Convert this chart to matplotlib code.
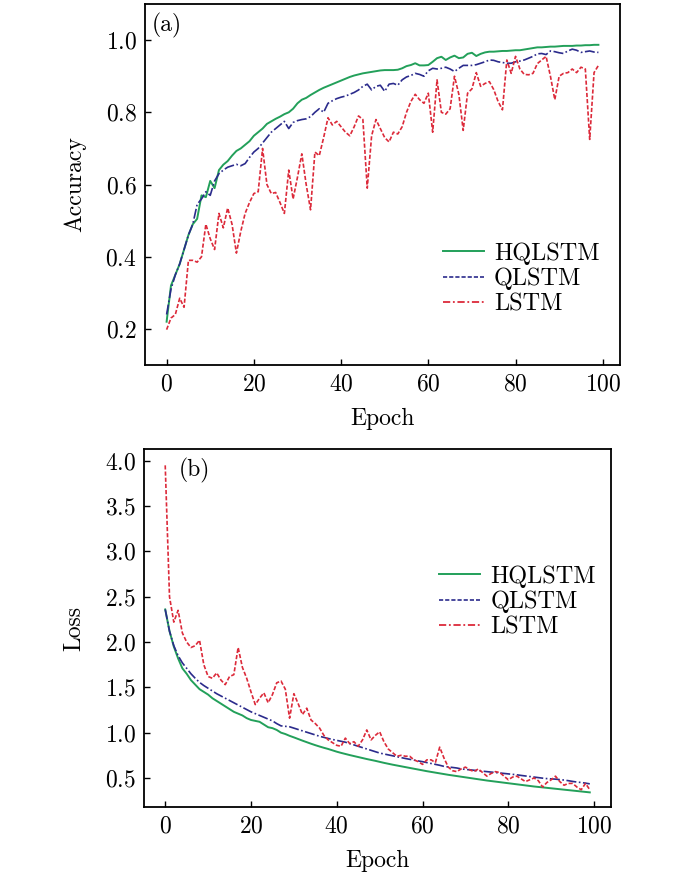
import numpy as np
import matplotlib
matplotlib.use("Agg")
import matplotlib.pyplot as plt
from matplotlib.lines import Line2D

plt.rcParams['font.family'] = 'serif'
plt.rcParams['font.serif'] = ['cmr10', 'DejaVu Serif']
plt.rcParams['mathtext.fontset'] = 'cm'
plt.rcParams['axes.formatter.use_mathtext'] = True
plt.rcParams['font.size'] = 16

#epochs 0..99
epochs = np.arange(100)

#accuracy curves
acc_hqlstm = [0.22, 0.32, 0.35, 0.38, 0.42, 0.46, 0.49, 0.505, 0.57, 0.565,
              0.61, 0.59, 0.64, 0.655, 0.665, 0.68, 0.693, 0.70, 0.71, 0.72,
              0.735, 0.745, 0.755, 0.768, 0.775, 0.782, 0.788, 0.795, 0.80, 0.81,
              0.825, 0.835, 0.84, 0.848, 0.855, 0.862, 0.868, 0.873, 0.878, 0.883,
              0.888, 0.893, 0.898, 0.902, 0.905, 0.908, 0.91, 0.912, 0.914, 0.916,
              0.917, 0.917, 0.917, 0.918, 0.922, 0.928, 0.931, 0.936, 0.93, 0.93,
              0.931, 0.94, 0.95, 0.954, 0.945, 0.952, 0.957, 0.95, 0.952, 0.962,
              0.965, 0.956, 0.962, 0.966, 0.968, 0.968, 0.969, 0.97, 0.97, 0.971,
              0.972, 0.972, 0.974, 0.976, 0.978, 0.98, 0.98, 0.981, 0.982, 0.982,
              0.983, 0.984, 0.984, 0.984, 0.985, 0.985, 0.986, 0.986, 0.987, 0.987]
acc_qlstm = [0.24, 0.31, 0.35, 0.38, 0.42, 0.46, 0.49, 0.545, 0.56, 0.58,
             0.57, 0.61, 0.63, 0.64, 0.648, 0.652, 0.656, 0.652, 0.658, 0.675,
             0.69, 0.70, 0.715, 0.73, 0.745, 0.755, 0.765, 0.775, 0.755, 0.772,
             0.777, 0.78, 0.782, 0.788, 0.80, 0.81, 0.80, 0.825, 0.832, 0.838,
             0.842, 0.845, 0.85, 0.855, 0.862, 0.872, 0.878, 0.862, 0.872, 0.875,
             0.858, 0.878, 0.88, 0.875, 0.89, 0.898, 0.902, 0.908, 0.905, 0.90,
             0.915, 0.922, 0.92, 0.922, 0.925, 0.92, 0.913, 0.922, 0.93, 0.93,
             0.93, 0.932, 0.936, 0.94, 0.945, 0.944, 0.94, 0.938, 0.936, 0.936,
             0.94, 0.942, 0.945, 0.95, 0.955, 0.962, 0.963, 0.96, 0.97, 0.968,
             0.965, 0.963, 0.97, 0.975, 0.972, 0.966, 0.968, 0.97, 0.967, 0.966]
acc_lstm = [0.198, 0.23, 0.24, 0.285, 0.26, 0.39, 0.39, 0.385, 0.40, 0.49,
            0.45, 0.42, 0.52, 0.48, 0.535, 0.49, 0.41, 0.47, 0.52, 0.55,
            0.575, 0.58, 0.70, 0.60, 0.575, 0.578, 0.55, 0.52, 0.64, 0.56,
            0.62, 0.685, 0.60, 0.53, 0.69, 0.68, 0.73, 0.785, 0.765, 0.775,
            0.76, 0.745, 0.735, 0.76, 0.79, 0.78, 0.59, 0.735, 0.78, 0.755,
            0.73, 0.718, 0.745, 0.74, 0.76, 0.80, 0.83, 0.85, 0.835, 0.825,
            0.853, 0.745, 0.89, 0.80, 0.795, 0.81, 0.90, 0.85, 0.75, 0.853,
            0.865, 0.91, 0.872, 0.88, 0.885, 0.863, 0.83, 0.807, 0.945, 0.908,
            0.955, 0.92, 0.905, 0.904, 0.908, 0.935, 0.945, 0.955, 0.90, 0.835,
            0.90, 0.908, 0.91, 0.92, 0.91, 0.925, 0.92, 0.725, 0.91, 0.93]

#loss curves
loss_hqlstm = [2.36, 2.12, 1.95, 1.82, 1.71, 1.65, 1.58, 1.53, 1.48, 1.45,
               1.42, 1.38, 1.35, 1.32, 1.29, 1.26, 1.23, 1.21, 1.19, 1.16,
               1.14, 1.13, 1.12, 1.09, 1.06, 1.05, 1.03, 1.00, 0.985, 0.965,
               0.948, 0.93, 0.912, 0.895, 0.878, 0.862, 0.847, 0.833, 0.82, 0.805,
               0.79, 0.777, 0.765, 0.753, 0.742, 0.731, 0.72, 0.709, 0.699, 0.689,
               0.678, 0.667, 0.657, 0.647, 0.638, 0.629, 0.62, 0.611, 0.602, 0.593,
               0.584, 0.575, 0.567, 0.559, 0.551, 0.543, 0.535, 0.528, 0.521, 0.514,
               0.507, 0.5, 0.493, 0.486, 0.479, 0.472, 0.466, 0.46, 0.454, 0.448,
               0.442, 0.436, 0.43, 0.424, 0.418, 0.412, 0.406, 0.401, 0.396, 0.391,
               0.386, 0.381, 0.376, 0.371, 0.366, 0.361, 0.356, 0.351, 0.346, 0.341]
loss_qlstm = [2.36, 2.12, 1.96, 1.85, 1.77, 1.71, 1.65, 1.60, 1.555, 1.52,
              1.49, 1.46, 1.43, 1.405, 1.38, 1.355, 1.33, 1.305, 1.28, 1.255,
              1.23, 1.21, 1.19, 1.17, 1.15, 1.13, 1.10, 1.075, 1.07, 1.065,
              1.05, 1.035, 1.02, 1.005, 0.99, 0.975, 0.96, 0.948, 0.936, 0.925,
              0.915, 0.905, 0.895, 0.88, 0.865, 0.85, 0.835, 0.82, 0.805, 0.79,
              0.775, 0.765, 0.755, 0.745, 0.735, 0.725, 0.715, 0.706, 0.697, 0.688,
              0.68, 0.67, 0.66, 0.65, 0.64, 0.628, 0.622, 0.616, 0.61, 0.60,
              0.595, 0.59, 0.585, 0.58, 0.575, 0.57, 0.565, 0.56, 0.555, 0.55,
              0.545, 0.54, 0.535, 0.528, 0.522, 0.516, 0.51, 0.504, 0.498, 0.493,
              0.49, 0.487, 0.482, 0.477, 0.47, 0.462, 0.455, 0.45, 0.443, 0.435]
loss_lstm = [3.95, 2.50, 2.22, 2.35, 2.10, 2.00, 1.94, 1.96, 2.02, 1.75,
             1.62, 1.60, 1.66, 1.58, 1.53, 1.62, 1.64, 1.94, 1.72, 1.60,
             1.45, 1.31, 1.38, 1.44, 1.33, 1.42, 1.55, 1.57, 1.48, 1.16,
             1.43, 1.32, 1.20, 1.27, 1.14, 1.10, 1.05, 0.97, 0.92, 0.89,
             0.86, 0.85, 0.94, 0.88, 0.90, 0.85, 0.92, 1.03, 0.92, 0.97,
             1.01, 0.90, 0.82, 0.78, 0.74, 0.75, 0.74, 0.74, 0.70, 0.68,
             0.65, 0.70, 0.70, 0.67, 0.84, 0.72, 0.62, 0.58, 0.57, 0.60,
             0.62, 0.59, 0.57, 0.60, 0.56, 0.52, 0.55, 0.57, 0.56, 0.52,
             0.48, 0.51, 0.52, 0.49, 0.46, 0.48, 0.50, 0.47, 0.40, 0.45,
             0.48, 0.52, 0.46, 0.42, 0.44, 0.44, 0.40, 0.37, 0.44, 0.37]

labels = ["HQLSTM", "QLSTM", "LSTM"]
c_green = '#23a05a'
c_blue = '#2b2b8c'
c_red = '#dc2a3a'
ls_blue = (0, (6, 1.5, 1, 1.5)) #dash-dot as drawn in the curves
ls_red = (0, (2.5, 1.2)) #short dashes

fig = plt.figure(figsize=(6.86, 8.76), dpi=100)
ax1 = fig.add_axes([0.2114, 0.5833, 0.6924, 0.4121])
ax2 = fig.add_axes([0.2099, 0.0788, 0.6808, 0.4086])

def style_axes(ax):
	for s in ax.spines.values():
		s.set_linewidth(1.3)
	ax.tick_params(direction='in', length=4, width=1, labelsize=17, pad=6)

#(a) accuracy
ax1.plot(epochs, acc_hqlstm, color=c_green, lw=1.4)
ax1.plot(epochs, acc_qlstm, color=c_blue, lw=1.2, linestyle=ls_blue)
ax1.plot(epochs, acc_lstm, color=c_red, lw=1.2, linestyle=ls_red)
ax1.set_ylim(0.1, 1.1)
ax1.set_yticks([0.2, 0.4, 0.6, 0.8, 1.0])
ax1.set_xticks([0, 20, 40, 60, 80, 100])
ax1.set_xlabel("Epoch", fontsize=17, labelpad=9)
ax1.set_ylabel("Accuracy", fontsize=17, labelpad=14)
ax1.text(0.015, 0.975, "(a)", transform=ax1.transAxes, ha='left', va='top', fontsize=17)
style_axes(ax1)

#(b) loss
ax2.plot(epochs, loss_hqlstm, color=c_green, lw=1.4)
ax2.plot(epochs, loss_qlstm, color=c_blue, lw=1.2, linestyle=ls_blue)
ax2.plot(epochs, loss_lstm, color=c_red, lw=1.2, linestyle=ls_red)
ax2.set_ylim(0.18, 4.13)
ax2.set_yticks([0.5, 1.0, 1.5, 2.0, 2.5, 3.0, 3.5, 4.0])
ax2.set_xticks([0, 20, 40, 60, 80, 100])
ax2.set_xlabel("Epoch", fontsize=17, labelpad=9)
ax2.set_ylabel("Loss", fontsize=17, labelpad=14)
ax2.text(0.075, 0.975, "(b)", transform=ax2.transAxes, ha='left', va='top', fontsize=17)
style_axes(ax2)

#legend handles use their own line styles
handles = [Line2D([], [], color=c_green, lw=1.4),
           Line2D([], [], color=c_blue, lw=1.2, linestyle=(0, (2.5, 1.2))),
           Line2D([], [], color=c_red, lw=1.3, linestyle=(0, (4, 1.5, 1, 1.5)))]
leg_kw = dict(frameon=False, fontsize=17.5, handlelength=1.7, handletextpad=0.4,
              labelspacing=0.12, borderpad=0, borderaxespad=0, loc='upper left')
ax1.legend(handles, labels, bbox_to_anchor=(0.627, 0.34), **leg_kw)
ax2.legend(handles, labels, bbox_to_anchor=(0.632, 0.675), **leg_kw)

fig.savefig("out.png", dpi=100)
